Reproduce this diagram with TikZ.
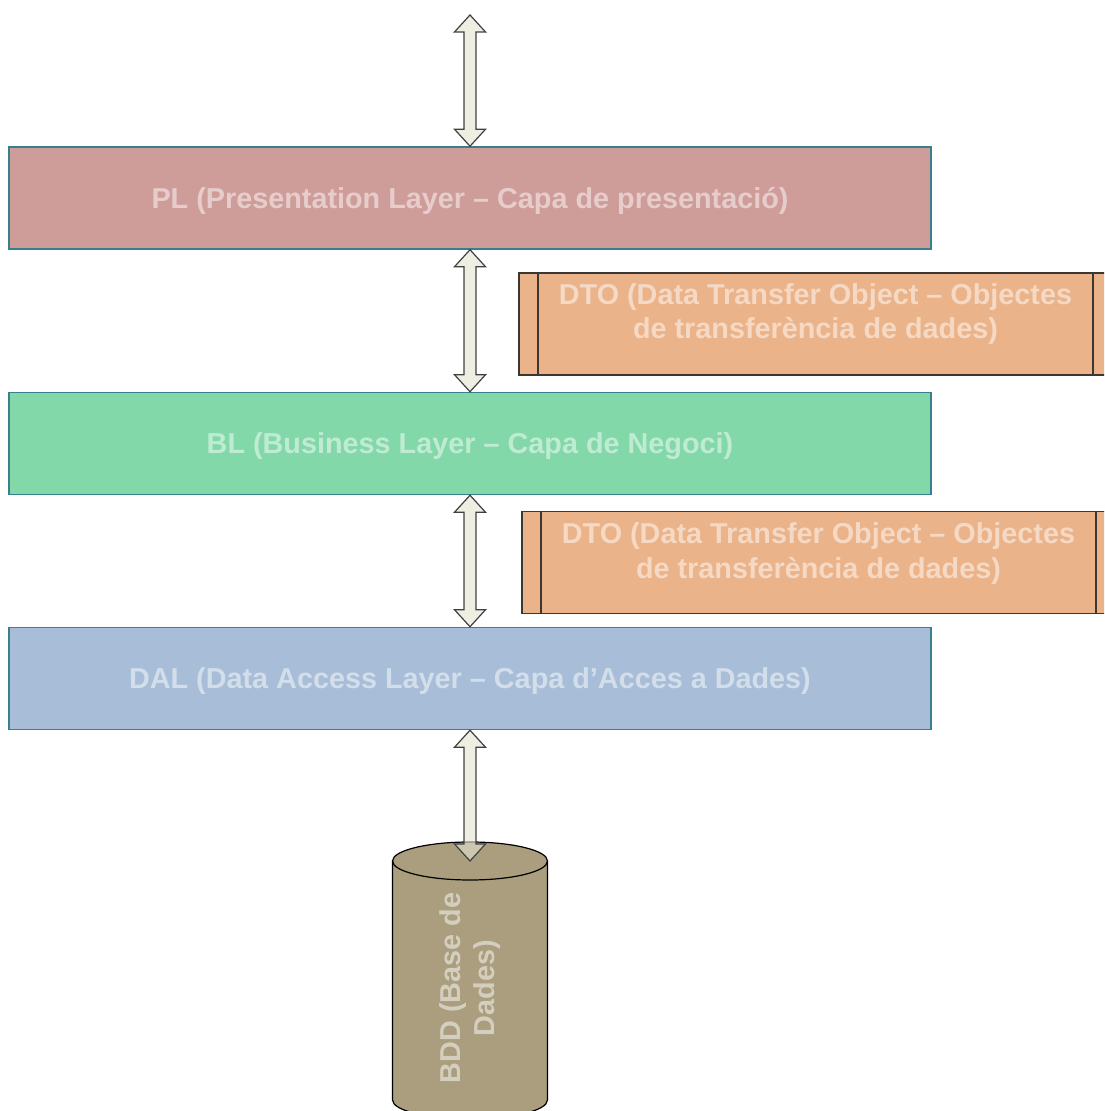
\documentclass[tikz,border=0pt]{standalone}
\usepackage{fontspec}
\setmainfont{Liberation Sans}
\usepackage{xcolor}
\usetikzlibrary{calc,positioning}

\definecolor{plfill}{RGB}{206,156,153}
\definecolor{blfill}{RGB}{130,216,168}
\definecolor{dalfill}{RGB}{168,189,216}
\definecolor{dtofill}{RGB}{235,179,137}
\definecolor{bddfill}{RGB}{170,158,126}
\definecolor{arrowfill}{RGB}{227,227,208}
\definecolor{layerline}{RGB}{58,127,140}
\definecolor{dtoline}{RGB}{60,55,50}

\tikzset{
    labelfont/.style={text=white, text opacity=0.5, font=\fontsize{14.4}{17.3}\selectfont\bfseries},
    layer/.style={labelfont, draw=layerline, line width=0.75pt, minimum width=461pt, minimum height=51pt, inner sep=0pt, text height=13.5pt, text depth=3pt},
    dtobox/.style={draw=dtoline, fill=dtofill, line width=0.8pt, minimum width=296.5pt, minimum height=51pt, inner sep=0pt},
    dtotext/.style={labelfont, align=center},
    bddshape/.style={draw=black, fill=bddfill, line width=0.6pt},
    layerarrow/.style={draw=black!75, line width=0.6pt, fill=arrowfill, fill opacity=0.6},
}

% block arrow with two heads, #1 above #2
\newcommand{\dblarrow}[2]{%
    \filldraw[layerarrow] (#1) -- ++(15.5,-17) -- ++(-9.5,0) -- ($(#2)+(6,17)$) -- ++(9.5,0) -- (#2)
        -- ++(-15.5,17) -- ++(9.5,0) -- ($(#1)+(-6,-17)$) -- ++(-9.5,0) -- cycle;
}

\begin{document}
\begin{tikzpicture}[x=0.5pt, y=0.5pt]
    \useasboundingbox (0,0) rectangle (1104,1111);
    \clip (0,0) rectangle (1104,1111);

    % database
    \coordinate (bddtop) at (470,250);
    \filldraw[bddshape] (392.5,250) -- (392.5,11) arc[start angle=180, end angle=360, x radius=77.5, y radius=19]
        -- (547.5,250) arc[start angle=0, end angle=180, x radius=77.5, y radius=19] -- cycle;
    \draw[bddshape, fill=none] (392.5,250) arc[start angle=180, end angle=360, x radius=77.5, y radius=19];
    \node[labelfont, align=center, rotate=90] (bdd) at (470,123) {BDD (Base de\\Dades)};

    % layers
    \node[layer, fill=plfill] (pl) at (470,913) {PL (Presentation Layer -- Capa de presentació)};
    \node[layer, fill=blfill] (bl) at (470,667.5) {BL (Business Layer -- Capa de Negoci)};
    \node[layer, fill=dalfill] (dal) at (470,432.5) {DAL (Data Access Layer -- Capa d’Acces a Dades)};

    % DTOs
    \node[dtobox] (dto1) at (815.5,787) {};
    \draw[dtoline, line width=1pt] ($(dto1.north west)+(20,0)$) -- ($(dto1.south west)+(20,0)$);
    \draw[dtoline, line width=1pt] ($(dto1.north east)+(-20,0)$) -- ($(dto1.south east)+(-20,0)$);
    \node[dtotext] (dto1txt) at ($(dto1)+(0,10)$) {DTO (Data Transfer Object -- Objectes\\de transferència de dades)};

    \node[dtobox] (dto2) at (818.5,548.5) {};
    \draw[dtoline, line width=1pt] ($(dto2.north west)+(20,0)$) -- ($(dto2.south west)+(20,0)$);
    \draw[dtoline, line width=1pt] ($(dto2.north east)+(-20,0)$) -- ($(dto2.south east)+(-20,0)$);
    \node[dtotext] (dto2txt) at ($(dto2)+(0,9)$) {DTO (Data Transfer Object -- Objectes\\de transferència de dades)};

    % arrows
    \coordinate (client) at (470,1096);
    \dblarrow{client}{pl.north}
    \dblarrow{pl.south}{bl.north}
    \dblarrow{bl.south}{dal.north}
    \dblarrow{dal.south}{bddtop}
\end{tikzpicture}
\end{document}
